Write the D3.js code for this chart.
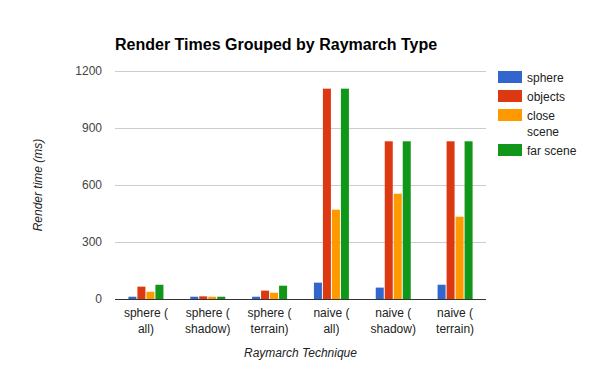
<!DOCTYPE html>
<html>
<head>
<meta charset="utf-8">
<script src="https://cdnjs.cloudflare.com/ajax/libs/d3/7.8.5/d3.min.js"></script>
<style>
  body { margin: 0; background: #fff; }
  svg { font-family: Arial, "Liberation Sans", sans-serif; }
</style>
</head>
<body>
<svg width="600" height="371"></svg>
<script>
// data
var categories = ["sphere (all)", "sphere (shadow)", "sphere (terrain)", "naive (all)", "naive (shadow)", "naive (terrain)"];
var seriesNames = ["sphere", "objects", "close scene", "far scene"];
var sphere = [12, 12, 12, 86, 60, 75];
var objects = [65, 14, 44, 1107, 830, 830];
var closeScene = [38, 12, 33, 470, 554, 433];
var farScene = [75, 12, 70, 1107, 830, 830];
var yTicks = [0, 300, 600, 900, 1200];
var colors = ["#3366cc", "#dc3912", "#ff9900", "#109618"];

var values = [sphere, objects, closeScene, farScene];

var svg = d3.select("svg"),
    margin = {top: 71, right: 114, bottom: 72, left: 115},
    width = +svg.attr("width") - margin.left - margin.right,
    height = +svg.attr("height") - margin.top - margin.bottom,
    g = svg.append("g").attr("transform", "translate(" + margin.left + "," + margin.top + ")");

var x0 = d3.scaleBand()
    .domain(categories)
    .range([0, width])
    .paddingInner(0.434)
    .paddingOuter(0.217);

var x1 = d3.scaleBand()
    .domain(seriesNames)
    .range([0, x0.bandwidth()])
    .paddingInner(1 / 9)
    .paddingOuter(0);

var y = d3.scaleLinear()
    .domain([0, 1200])
    .range([height, 0]);

// gridlines
g.append("g")
    .selectAll("line")
    .data(yTicks.filter(function(d) { return d > 0; }))
    .enter().append("line")
    .attr("x1", 0)
    .attr("x2", width)
    .attr("y1", function(d) { return Math.round(y(d)) + 0.5; })
    .attr("y2", function(d) { return Math.round(y(d)) + 0.5; })
    .attr("stroke", "#cccccc");

// y axis labels
var yAxis = g.append("g")
    .call(d3.axisLeft(y).tickValues(yTicks).tickFormat(d3.format("d")).tickSize(0).tickPadding(13));
yAxis.select(".domain").remove();
yAxis.selectAll("text")
    .attr("font-size", 12)
    .attr("font-family", "Arial, 'Liberation Sans', sans-serif")
    .attr("fill", "#444");

// bars
var groups = g.append("g")
    .selectAll("g")
    .data(categories)
    .enter().append("g")
    .attr("transform", function(d) { return "translate(" + x0(d) + ",0)"; });

groups.selectAll("rect")
    .data(function(d, i) {
        return seriesNames.map(function(s, j) { return {key: s, value: values[j][i], color: colors[j]}; });
    })
    .enter().append("rect")
    .attr("x", function(d) { return x1(d.key); })
    .attr("width", x1.bandwidth())
    .attr("y", function(d) { return y(d.value); })
    .attr("height", function(d) { return height - y(d.value); })
    .attr("fill", function(d) { return d.color; });

// baseline
g.append("line")
    .attr("x1", 0)
    .attr("x2", width)
    .attr("y1", height + 0.5)
    .attr("y2", height + 0.5)
    .attr("stroke", "#333333");

// x axis labels, wrapped after "("
var xAxis = g.append("g")
    .attr("transform", "translate(0," + height + ")")
    .call(d3.axisBottom(x0).tickSize(0).tickFormat(""));
xAxis.select(".domain").remove();
xAxis.selectAll(".tick").each(function(d) {
    var parts = d.split("(");
    var lines = [parts[0] + "(", parts[1]];
    var t = d3.select(this).append("text")
        .attr("fill", "#222")
        .attr("font-size", 12)
        .attr("font-family", "Arial, 'Liberation Sans', sans-serif")
        .attr("text-anchor", "middle");
    lines.forEach(function(l, i) {
        t.append("tspan").attr("x", 0).attr("y", 18 + i * 16).text(l);
    });
});

// title
svg.append("text")
    .attr("x", 115)
    .attr("y", 50)
    .attr("font-size", 16)
    .attr("font-weight", "bold")
    .attr("fill", "#000")
    .text("Render Times Grouped by Raymarch Type");

// axis titles
svg.append("text")
    .attr("x", margin.left + width / 2)
    .attr("y", 357)
    .attr("text-anchor", "middle")
    .attr("font-size", 12)
    .attr("font-style", "italic")
    .attr("fill", "#222")
    .text("Raymarch Technique");

svg.append("text")
    .attr("transform", "translate(42," + (margin.top + height / 2) + ") rotate(-90)")
    .attr("text-anchor", "middle")
    .attr("font-size", 12)
    .attr("font-style", "italic")
    .attr("fill", "#222")
    .text("Render time (ms)");

// legend
var legendRows = [["sphere"], ["objects"], ["close", "scene"], ["far scene"]];
var legend = svg.append("g").attr("transform", "translate(498,71)");
var rowY = 0;
legendRows.forEach(function(lines, i) {
    var item = legend.append("g").attr("transform", "translate(0," + rowY + ")");
    item.append("rect")
        .attr("width", 24)
        .attr("height", 12)
        .attr("fill", colors[i]);
    var t = item.append("text")
        .attr("font-size", 12)
        .attr("fill", "#222");
    lines.forEach(function(l, k) {
        t.append("tspan").attr("x", 29).attr("y", 10.5 + k * 16).text(l);
    });
    rowY += 19 + 16 * (lines.length - 1);
});
</script>
</body>
</html>
